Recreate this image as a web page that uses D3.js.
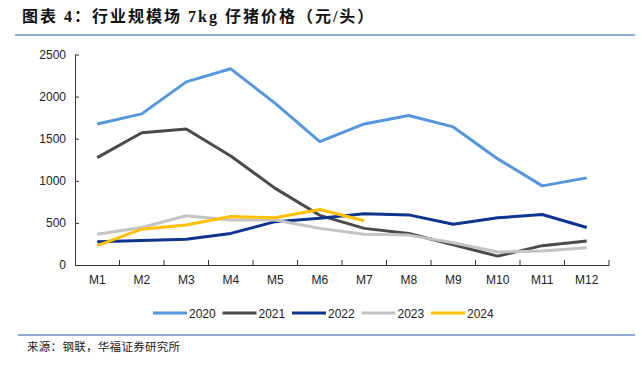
<!DOCTYPE html>
<html>
<head>
<meta charset="utf-8">
<script src="https://cdn.jsdelivr.net/npm/d3@7"></script>
<style>
  body { margin: 0; background: #fff; }
  svg { display: block; }
</style>
</head>
<body>
<svg width="642" height="366"></svg>
<script>
// data
var months = ["M1","M2","M3","M4","M5","M6","M7","M8","M9","M10","M11","M12"];
var years = ["2020","2021","2022","2023","2024"];
var colors = ["#5596dc","#4a4a4a","#0f3490","#c3c3c3","#ffc000"];
var v2020 = [1675, 1795, 2175, 2330, 1920, 1465, 1675, 1775, 1640, 1260, 940, 1035];
var v2021 = [1275, 1570, 1615, 1295, 910, 590, 435, 375, 240, 105, 230, 285];
var v2022 = [275, 290, 305, 375, 515, 555, 610, 595, 485, 560, 600, 445];
var v2023 = [365, 445, 585, 535, 535, 435, 365, 355, 265, 155, 165, 205];
var v2024 = [230, 425, 475, 575, 560, 660, 525];
var yTicks = [0, 500, 1000, 1500, 2000, 2500];

var series = [v2020, v2021, v2022, v2023, v2024];

var svg = d3.select("svg");
var cjk = "'Noto Sans CJK SC', sans-serif";

// title
svg.append("text")
  .attr("x", 22).attr("y", 22)
  .attr("font-family", "'Liberation Serif', 'Noto Sans CJK SC', serif")
  .attr("font-weight", "bold")
  .attr("font-size", 16)
  .attr("letter-spacing", 2)
  .attr("fill", "#111")
  .text("图表 4：行业规模场 7kg 仔猪价格（元/头）");

svg.append("line")
  .attr("x1", 15).attr("x2", 635).attr("y1", 35).attr("y2", 35)
  .attr("stroke", "#8eaad6").attr("stroke-width", 2);

// chart area
var x = d3.scaleBand().domain(months).range([75, 609]);
var y = d3.scaleLinear().domain([0, 2500]).range([265, 54.5]);

var xAxis = svg.append("g")
  .attr("transform", "translate(0,265)")
  .call(d3.axisBottom(x).tickSize(0).tickPadding(10));
xAxis.select(".domain").attr("stroke", "#333").attr("stroke-width", 1);
xAxis.selectAll("text")
  .attr("font-family", "'Liberation Sans', Arial, sans-serif")
  .attr("font-size", 12).attr("fill", "#222");

// ticks between categories, pointing up
svg.append("g").selectAll("line")
  .data(months)
  .enter().append("line")
  .attr("x1", function (d) { return x(d) + x.bandwidth(); })
  .attr("x2", function (d) { return x(d) + x.bandwidth(); })
  .attr("y1", 265).attr("y2", 260)
  .attr("stroke", "#333");

var yAxis = svg.append("g")
  .attr("transform", "translate(75,0)")
  .call(d3.axisLeft(y).tickValues(yTicks).tickFormat(d3.format("d"))
    .tickSize(-4).tickPadding(9).tickSizeOuter(0));
yAxis.select(".domain").attr("stroke", "#333");
yAxis.selectAll(".tick line").attr("stroke", "#333");
yAxis.selectAll("text")
  .attr("font-family", "'Liberation Sans', Arial, sans-serif")
  .attr("font-size", 12).attr("fill", "#222");

var line = d3.line()
  .x(function (d, i) { return x(months[i]) + x.bandwidth() / 2; })
  .y(function (d) { return y(d); });

svg.append("g").selectAll("path")
  .data(series)
  .enter().append("path")
  .attr("d", line)
  .attr("fill", "none")
  .attr("stroke", function (d, i) { return colors[i]; })
  .attr("stroke-width", 3)
  .attr("stroke-linejoin", "round");

// legend
var leg = svg.append("g").selectAll("g")
  .data(years)
  .enter().append("g")
  .attr("transform", function (d, i) { return "translate(" + (153 + i * 69.5) + ",313)"; });
leg.append("line")
  .attr("x1", 0).attr("x2", 34).attr("y1", 0).attr("y2", 0)
  .attr("stroke", function (d, i) { return colors[i]; })
  .attr("stroke-width", 3);
leg.append("text")
  .attr("x", 36).attr("y", 4.5)
  .attr("font-family", "'Liberation Sans', Arial, sans-serif")
  .attr("font-size", 12).attr("fill", "#222")
  .text(function (d) { return d; });

// footer
svg.append("line")
  .attr("x1", 18).attr("x2", 635).attr("y1", 335).attr("y2", 335)
  .attr("stroke", "#8eaad6").attr("stroke-width", 2);
svg.append("text")
  .attr("x", 27).attr("y", 351)
  .attr("font-family", cjk)
  .attr("font-size", 11.5)
  .attr("letter-spacing", 0.3)
  .attr("fill", "#222")
  .text("来源：钢联，华福证券研究所");
</script>
</body>
</html>
